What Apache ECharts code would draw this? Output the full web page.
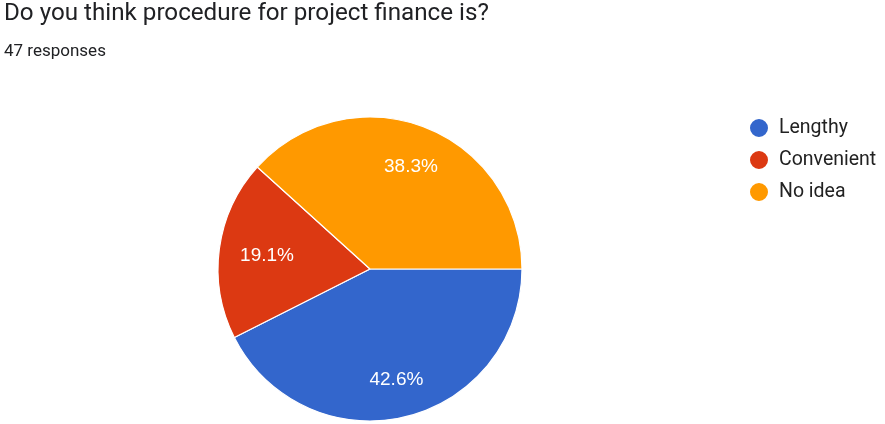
<!DOCTYPE html>
<html>
<head>
<meta charset="utf-8">
<script src="https://cdn.jsdelivr.net/npm/echarts@6/dist/echarts.min.js"></script>
<style>
html,body{margin:0;padding:0;background:#fff;}
#c{width:885px;height:424px;}
</style>
</head>
<body>
<div id="c"></div>
<script>
const categories = ["Lengthy", "Convenient", "No idea"];
const counts = [20, 9, 18];
const colors = ["#3366cc", "#dc3912", "#ff9900"];
const labelNudge = [[0, 0], [10, 2], [0, 4]];
const titleText = "Do you think procedure for project finance is?";
const subText = "47 responses";

const total = counts.reduce((a, b) => a + b, 0);
const data = categories.map((n, i) => ({ name: n, value: counts[i], itemStyle: { color: colors[i] } }));

const chart = echarts.init(document.getElementById('c'), null, { renderer: 'canvas' });
chart.setOption({
  animation: false,
  title: {
    text: titleText,
    subtext: subText,
    left: -1,
    top: -3,
    itemGap: 17,
    textStyle: { fontFamily: 'Roboto', fontSize: 24.2, fontWeight: 'normal', color: '#202124' },
    subtextStyle: { fontFamily: 'Roboto', fontSize: 17, color: '#202124' }
  },
  legend: {
    orient: 'vertical',
    left: 743,
    top: 112,
    icon: 'circle',
    itemWidth: 20,
    itemHeight: 20,
    itemGap: 10,
    data: categories,
    textStyle: { fontFamily: 'Roboto', fontSize: 19.5, color: '#222', padding: [0, 0, 0, 5] }
  },
  series: [
    {
      type: 'pie',
      center: [370, 269],
      radius: [0, 152],
      startAngle: 0,
      clockwise: true,
      silent: true,
      data: data,
      itemStyle: { borderColor: '#fff', borderWidth: 1.2 },
      label: { show: false },
      labelLine: { show: false }
    },
    {
      type: 'pie',
      center: [370, 269],
      radius: [70, 152],
      startAngle: 0,
      clockwise: true,
      silent: true,
      legendHoverLink: false,
      data: categories.map((n, i) => ({
        name: n, value: counts[i],
        itemStyle: { color: 'rgba(0,0,0,0)' },
        label: { offset: labelNudge[i] }
      })),
      itemStyle: { borderWidth: 0 },
      label: {
        show: true,
        position: 'inside',
        formatter: p => (p.value / total * 100).toFixed(1) + '%',
        fontFamily: 'Liberation Sans',
        fontSize: 19,
        color: '#fff'
      },
      labelLine: { show: false }
    }
  ]
});
</script>
</body>
</html>
